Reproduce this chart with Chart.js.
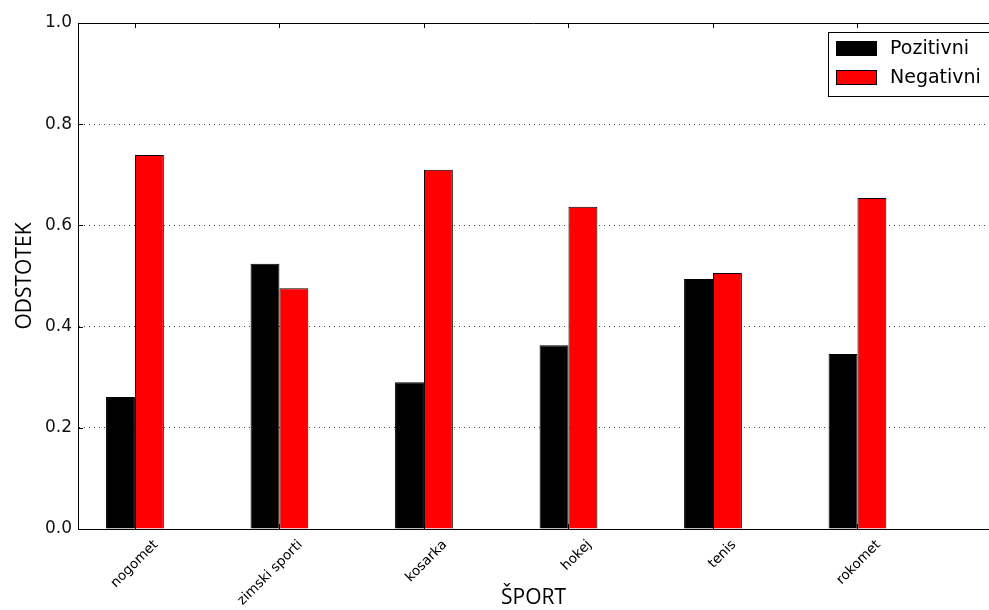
<!DOCTYPE html>
<html>
<head>
<meta charset="utf-8">
<script src="https://cdn.jsdelivr.net/npm/chart.js@4"></script>
<style>
  html, body { margin: 0; padding: 0; background: #fff; overflow: hidden; }
  #wrap { width: 989px; height: 610px; position: relative; }
</style>
</head>
<body>
<div id="wrap"><canvas id="sportChart"></canvas></div>
<script>
const sports = ["nogomet", "zimski sporti", "kosarka", "hokej", "tenis", "rokomet"];
const pozitivni = [0.261, 0.524, 0.290, 0.363, 0.494, 0.346];
const negativni = [0.739, 0.476, 0.710, 0.637, 0.506, 0.654];
const yTicks = [0.0, 0.2, 0.4, 0.6, 0.8, 1.0];

const tickFont = "DejaVu Sans";
const titleFont = "Open Sans";

// matplotlib style frame: top spine, inward ticks, legend box
const framePlugin = {
  id: "frame",
  afterDraw(chart) {
    const { ctx, chartArea: a } = chart;
    const xs = chart.scales.x, ys = chart.scales.y;
    ctx.save();
    ctx.strokeStyle = "#000";
    ctx.lineWidth = 1;
    ctx.beginPath();
    ctx.moveTo(a.left, a.top + 0.5);
    ctx.lineTo(a.right, a.top + 0.5);
    sports.forEach((s, i) => {
      const px = Math.round(xs.getPixelForValue(i)) + 0.5;
      ctx.moveTo(px, a.top);
      ctx.lineTo(px, a.top + 5);
      ctx.moveTo(px, a.bottom);
      ctx.lineTo(px, a.bottom - 5);
    });
    yTicks.forEach(v => {
      const py = Math.round(ys.getPixelForValue(v)) + 0.5;
      ctx.moveTo(a.left, py);
      ctx.lineTo(a.left + 5, py);
    });
    ctx.stroke();

    // legend
    const bx = 828.5, by = 32.5, bw = 180, bh = 64;
    ctx.fillStyle = "#fff";
    ctx.fillRect(bx, by, bw, bh);
    ctx.strokeRect(bx, by, bw, bh);
    ctx.font = "19px '" + tickFont + "'";
    ctx.textBaseline = "middle";
    chart.data.datasets.forEach((ds, i) => {
      const sy = 41 + i * 29;
      ctx.fillStyle = ds.backgroundColor;
      ctx.fillRect(836, sy, 41, 15);
      ctx.strokeStyle = "#000";
      ctx.strokeRect(836.5, sy + 0.5, 40, 14);
      ctx.fillStyle = "#000";
      ctx.fillText(ds.label, 890, sy + 8);
    });
    ctx.restore();
  }
};

const ctx = document.getElementById("sportChart").getContext("2d");
new Chart(ctx, {
  type: "bar",
  data: {
    datasets: [
      {
        label: "Pozitivni",
        data: pozitivni.map((v, i) => ({ x: i, y: v })),
        backgroundColor: "#000000",
        borderColor: "#000000",
        borderWidth: 1,
      },
      {
        label: "Negativni",
        data: negativni.map((v, i) => ({ x: i, y: v })),
        backgroundColor: "#ff0000",
        borderColor: "#000000",
        borderWidth: 1,
      },
    ],
  },
  options: {
    responsive: true,
    maintainAspectRatio: false,
    animation: false,
    categoryPercentage: 0.4,
    barPercentage: 1.0,
    layout: { padding: { top: 23, right: 0, bottom: 0, left: 0 } },
    plugins: {
      legend: { display: false },
      tooltip: { enabled: false },
    },
    scales: {
      x: {
        type: "linear",
        offset: false,
        min: -0.394,
        max: 5.91,
        afterBuildTicks: (scale) => {
          scale.ticks = sports.map((s, i) => ({ value: i }));
        },
        afterFit: (scale) => { scale.height = 81; },
        grid: { display: false, offset: false },
        border: { display: true, color: "#000", width: 1 },
        ticks: {
          autoSkip: false,
          minRotation: 45,
          maxRotation: 45,
          labelOffset: 21,
          padding: 0,
          color: "#000",
          font: { family: tickFont, size: 13.5 },
          callback: (v) => sports[v],
        },
        title: {
          display: true,
          text: "ŠPORT",
          color: "#000",
          font: { family: titleFont, size: 21 },
          padding: { top: 0, bottom: -1 },
        },
      },
      y: {
        min: 0,
        max: 1,
        afterBuildTicks: (scale) => {
          scale.ticks = yTicks.map(v => ({ value: v }));
        },
        afterFit: (scale) => { scale.width = 78; },
        grid: {
          drawTicks: false,
          color: "#444",
          lineWidth: 1,
        },
        border: { display: true, color: "#000", width: 1, dash: [1, 4] },
        ticks: {
          padding: 6,
          color: "#111",
          font: { family: tickFont, size: 17 },
          callback: (v) => v.toFixed(1),
        },
        title: {
          display: true,
          text: "ODSTOTEK",
          color: "#000",
          font: { family: titleFont, size: 21 },
          padding: { top: 12, bottom: 0 },
        },
      },
    },
  },
  plugins: [framePlugin],
});
</script>
</body>
</html>
